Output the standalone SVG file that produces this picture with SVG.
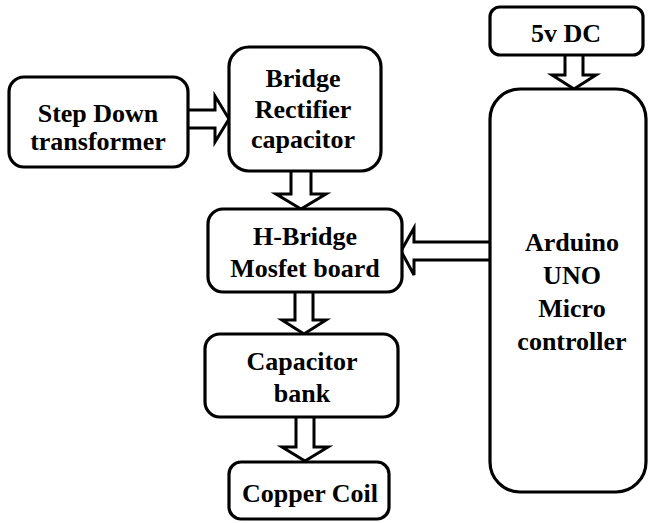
<svg xmlns="http://www.w3.org/2000/svg" width="650" height="523" viewBox="0 0 650 523">
  <style>
    .box { fill: #ffffff; stroke: #000000; stroke-width: 3.2; }
    .arr { fill: #ffffff; stroke: #000000; stroke-width: 3; stroke-linejoin: miter; }
  </style>
  <rect x="0" y="0" width="650" height="523" fill="#ffffff"/>

  <!-- block arrows -->
  <g id="connectors">
    <!-- step down -> rectifier -->
    <path class="arr" d="M188,110 L215,110 L215,96 L229,119 L215,142 L215,128 L188,128"/>
    <!-- rectifier -> h-bridge -->
    <path class="arr" d="M291,172 L291,194 L276,194 L301,209 L326,194 L311,194 L311,172"/>
    <!-- arduino -> h-bridge -->
    <path class="arr" d="M490,242 L414,242 L414,228 L401,251 L414,275 L414,260 L490,260"/>
    <!-- h-bridge -> capacitor bank -->
    <path class="arr" d="M295,292 L295,320 L282,320 L304,334 L326,320 L313,320 L313,292"/>
    <!-- capacitor bank -> copper coil -->
    <path class="arr" d="M296,417 L296,447 L282,447 L305,461 L328,447 L314,447 L314,417"/>
    <!-- 5v supply -> arduino -->
    <path class="arr" d="M565,55 L565,75 L552,75 L574,89 L596,75 L583,75 L583,55"/>
  </g>

  <g font-family="Liberation Serif, Times New Roman, serif" font-weight="bold" font-size="26" fill="#000000" text-anchor="middle">
    <g id="step-down">
      <rect class="box" x="9" y="77" width="179" height="90" rx="15"/>
      <text x="98" y="122">Step Down</text>
      <text x="98" y="150">transformer</text>
    </g>

    <g id="rectifier">
      <rect class="box" x="229" y="47" width="152" height="124" rx="20"/>
      <text x="303" y="87">Bridge</text>
      <text x="303" y="118">Rectifier</text>
      <text x="303" y="148">capacitor</text>
    </g>

    <g id="h-bridge">
      <rect class="box" x="208" y="209" width="194" height="83" rx="15"/>
      <text x="305" y="245">H-Bridge</text>
      <text x="305" y="277">Mosfet board</text>
    </g>

    <g id="capacitor-bank">
      <rect class="box" x="205" y="334" width="193" height="83" rx="15"/>
      <text x="302" y="370">Capacitor</text>
      <text x="302" y="402">bank</text>
    </g>

    <g id="copper-coil">
      <rect class="box" x="229" y="462" width="160" height="57" rx="12"/>
      <text x="310" y="502">Copper Coil</text>
    </g>

    <g id="supply">
      <rect class="box" x="490" y="7" width="153" height="48" rx="10"/>
      <text x="566" y="42">5v DC</text>
    </g>

    <g id="arduino">
      <rect class="box" x="490" y="89" width="156" height="403" rx="30"/>
      <text x="572" y="251">Arduino</text>
      <text x="572" y="284">UNO</text>
      <text x="572" y="317">Micro</text>
      <text x="572" y="350">controller</text>
    </g>
  </g>
</svg>
